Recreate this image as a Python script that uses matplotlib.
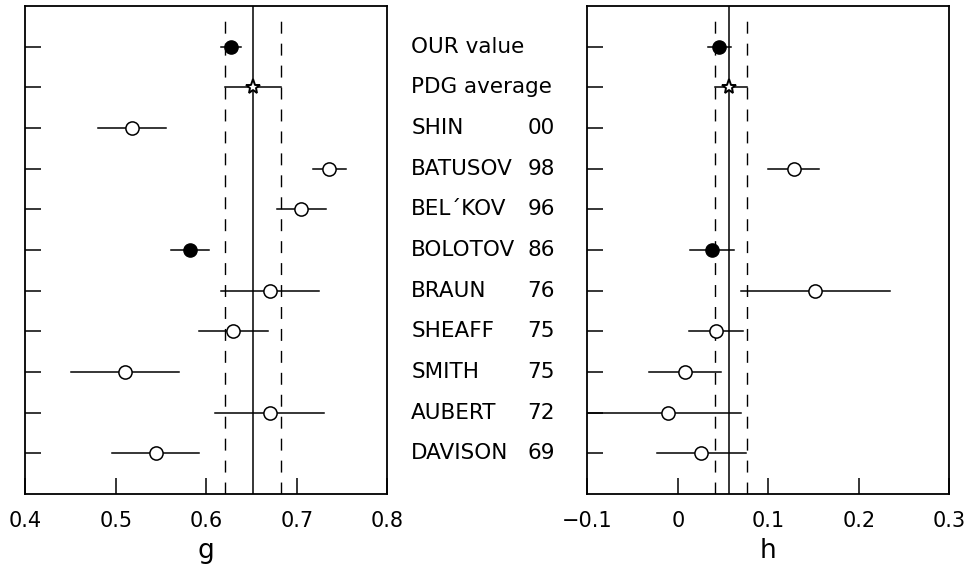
import numpy as np
import matplotlib
matplotlib.use("Agg")
import matplotlib.pyplot as plt
from matplotlib.transforms import blended_transform_factory

names = ["OUR value", "PDG average", "SHIN", "BATUSOV", "BEL\u00b4KOV", "BOLOTOV",
         "BRAUN", "SHEAFF", "SMITH", "AUBERT", "DAVISON"]
years = ["", "", "00", "98", "96", "86", "76", "75", "75", "72", "69"]

# g parameter: value, lower error, upper error (nan = no measurement)
g_val = [0.627, 0.652, 0.518, 0.736, 0.705, 0.582, 0.670, 0.630, 0.510, 0.670, 0.544]
g_elo = [0.011, 0.031, 0.038, 0.018, 0.027, 0.021, 0.054, 0.038, 0.060, 0.060, 0.048]
g_ehi = [0.011, 0.031, 0.038, 0.018, 0.027, 0.021, 0.054, 0.038, 0.060, 0.060, 0.048]

# h parameter
h_val = [0.046, 0.057, np.nan, 0.128, np.nan, 0.038, 0.152, 0.042, 0.008, -0.011, 0.026]
h_elo = [0.013, 0.016, np.nan, 0.028, np.nan, 0.024, 0.082, 0.030, 0.040, 0.095, 0.049]
h_ehi = [0.013, 0.020, np.nan, 0.028, np.nan, 0.024, 0.082, 0.030, 0.040, 0.081, 0.049]

# marker style per row: 'f' filled, 's' star, 'o' open
kinds = ["f", "s", "o", "o", "o", "f", "o", "o", "o", "o", "o"]

n = len(names)
rows = np.arange(n, 0, -1)

fig = plt.figure(figsize=(9.68, 5.71), dpi=100)
ax1 = fig.add_axes([25.3 / 968, 1 - 494 / 571, 362 / 968, 488 / 571])
ax2 = fig.add_axes([587.3 / 968, 1 - 494 / 571, 362 / 968, 488 / 571])


def draw_panel(ax, val, elo, ehi, xlim, xticks, xticklabels, xlabel):
    pdg = val[1]
    lo = pdg - elo[1]
    hi = pdg + ehi[1]
    ax.axvline(pdg, color="black", lw=1.1, zorder=1)
    for xv in (lo, hi):
        ax.plot([xv, xv], [0, 11.66], color="black", lw=1.0,
                dashes=(8.6, 7.2), zorder=1)
    for i in range(n):
        if np.isnan(val[i]):
            continue
        y = rows[i]
        ax.plot([val[i] - elo[i], val[i] + ehi[i]], [y, y], color="black",
                lw=1.1, zorder=2)
        if kinds[i] == "f":
            ax.plot(val[i], y, "o", ms=9.5, mfc="black", mec="black", zorder=3)
        elif kinds[i] == "s":
            ax.plot(val[i], y, "*", ms=11, mfc="white", mec="black",
                    mew=1.4, zorder=3)
        else:
            ax.plot(val[i], y, "o", ms=9.5, mfc="white", mec="black",
                    mew=1.1, zorder=3)
    ax.set_xlim(*xlim)
    ax.set_ylim(0, 12)
    ax.set_xticks(xticks)
    ax.set_xticklabels(xticklabels, fontsize=15)
    ax.set_yticks(rows)
    ax.set_yticklabels([])
    ax.tick_params(axis="both", direction="in", length=11.5, width=1.1,
                   top=False, right=False, pad=12)
    ax.set_xlabel(xlabel, fontsize=19, labelpad=5)
    for sp in ax.spines.values():
        sp.set_linewidth(1.3)


draw_panel(ax1, g_val, g_elo, g_ehi, (0.4, 0.8),
           [0.4, 0.5, 0.6, 0.7, 0.8], ["0.4", "0.5", "0.6", "0.7", "0.8"], "g")
draw_panel(ax2, h_val, h_elo, h_ehi, (-0.1, 0.3),
           [-0.1, 0.0, 0.1, 0.2, 0.3], ["\u22120.1", "0", "0.1", "0.2", "0.3"], "h")

trans = blended_transform_factory(ax1.transAxes, ax1.transData)
for i in range(n):
    ax1.text(1.066, rows[i], names[i], transform=trans, fontsize=15.5,
             ha="left", va="center")
    if years[i]:
        ax1.text(1.463, rows[i], years[i], transform=trans, fontsize=15.5,
                 ha="right", va="center")

fig.savefig("out.png", dpi=100)
